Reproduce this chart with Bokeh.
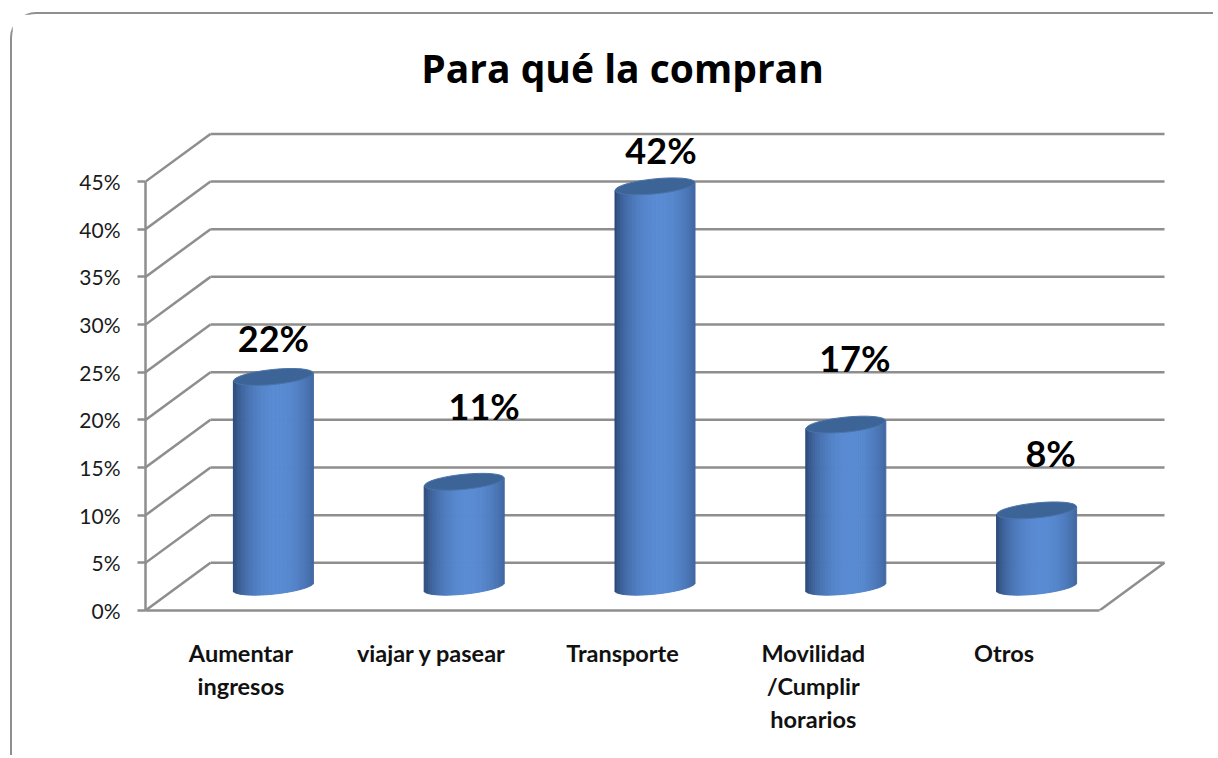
import numpy as np
from bokeh.plotting import figure
from bokeh.models import Range1d, FixedTicker, PrintfTickFormatter, Label
from bokeh.core.properties import value
from bokeh.embed import file_html
from bokeh.resources import INLINE

# ---------------- data ----------------
chart_title = "Para qué la compran"
categories = ["Aumentar\ningresos", "viajar y pasear", "Transporte",
              "Movilidad\n/Cumplir\nhorarios", "Otros"]
values = [22, 11, 42, 17, 8]
value_labels = ["22%", "11%", "42%", "17%", "8%"]
y_ticks = [0, 5, 10, 15, 20, 25, 30, 35, 40, 45]

# ---------------- layout / style ----------------
OX, OY = 12, 14                              # canvas origin on page (margin + border)
W, H = 1203, 743
# frame edges (canvas px); frame reaches the top so the title can sit inside it
FL, FR, FT, FB = 145 - OX, 1180 - OX, 0, 610 - OY
PX_X = 190.8                                # px per category
PX_Y = 9.531                                # px per percent
X0 = -0.5
X1 = X0 + (FR - FL) / PX_X
Y1 = (FB - FT) / PX_Y
DX = 65.0 / PX_X                            # depth offset (x)
DY = 47.7 / PX_Y                            # depth offset (y)
GRID = "#8e8e8e"
GW = 2.5
FONT = "Lato"

# title placement (page px: centre x, baseline y)
TITLE_CX, TITLE_BASE = 622, 67

# label offsets in screen px (x right, y up) relative to cylinder top
label_dx = [0, 20, 6, 9, 14]
label_dy = [39, 76, 36, 67, 57]

p = figure(width=W, height=H, output_backend="svg", toolbar_location=None,
           title=None,
           x_range=Range1d(X0, X1), y_range=Range1d(0, Y1),
           min_border_left=FL, min_border_right=W - FR,
           min_border_top=FT, min_border_bottom=H - FB)
p.outline_line_color = None
p.grid.visible = False
p.background_fill_color = "white"
p.border_fill_color = "white"
p.styles = {
    "margin-left": "10px", "margin-top": "12px",
    "border-left": "2.5px solid #8f8f8f", "border-top": "2.5px solid #8f8f8f",
    "border-top-left-radius": "26px",
}

# title
p.add_layout(Label(x=X0 + (TITLE_CX - 145) / PX_X, y=(610 - TITLE_BASE) / PX_Y,
                   text=chart_title, text_font="Open Sans", text_font_style="bold",
                   text_font_size="39px", text_color="black",
                   text_align="center", text_baseline="alphabetic"))

# y axis
ya = p.yaxis[0]
ya.ticker = FixedTicker(ticks=y_ticks)
ya.formatter = PrintfTickFormatter(format="%d%%")
ya.bounds = (0, max(y_ticks))
ya.axis_line_color = GRID
ya.axis_line_width = GW
ya.major_tick_line_color = GRID
ya.major_tick_line_width = GW
ya.major_tick_out = 8
ya.major_tick_in = 0
ya.minor_tick_line_color = None
ya.major_label_standoff = 17
ya.major_label_text_font = FONT
ya.major_label_text_font_size = "21px"
ya.major_label_text_color = "#1a1a1a"

# x axis
xa = p.xaxis[0]
xa.ticker = FixedTicker(ticks=list(range(len(categories))))
xa.major_label_overrides = {i: c for i, c in enumerate(categories)}
xa.bounds = (X0, len(categories) - 0.5)
xa.axis_line_color = GRID
xa.axis_line_width = GW
xa.major_tick_line_color = None
xa.minor_tick_line_color = None
xa.major_tick_out = 0
xa.major_tick_in = 0
xa.major_label_standoff = 28
xa.major_label_text_font = FONT
xa.major_label_text_font_style = "bold"
xa.major_label_text_font_size = "23.5px"
xa.major_label_text_color = "#111111"
xa.major_label_text_line_height = 1.18

# 3D walls: back gridlines, side diagonals, floor edge
n = len(categories)
bx0 = [X0 + DX] * len(y_ticks)
bx1 = [n - 0.5 + DX] * len(y_ticks)
by = [t + DY for t in y_ticks]
p.segment(x0=bx0, y0=by, x1=bx1, y1=by, line_color=GRID, line_width=GW)
p.segment(x0=[X0] * len(y_ticks), y0=y_ticks, x1=[X0 + DX] * len(y_ticks), y1=by,
          line_color=GRID, line_width=GW)
p.segment(x0=[n - 0.5], y0=[0], x1=[n - 0.5 + DX], y1=[DY], line_color=GRID, line_width=GW)

# cylinders
HW = 40.0 / PX_X            # half width
ANG = 0.1                   # ellipse tilt (rad)
EH = 7.5 / PX_Y             # half ellipse height
TILT = 40.0 * np.tan(ANG) / PX_Y
BASE = DY / 2
NS = 60
edges = np.linspace(-1, 1, NS + 1)
uc = (edges[:-1] + edges[1:]) / 2
dark = np.array([34, 58, 98])
light = np.array([90, 140, 212])
f = np.cos(np.clip((uc - 0.12) / 1.12, -1, 1) * np.pi / 2) ** 0.6
shade = 0.10 + 0.90 * f
cols = ["#%02x%02x%02x" % tuple((dark + (light - dark) * s).astype(int)) for s in shade]

cx = [i + DX / 2 for i in range(n)]
L, R, B, T, C = [], [], [], [], []
for i, v in enumerate(values):
    for j in range(NS):
        L.append(cx[i] + HW * edges[j])
        R.append(cx[i] + HW * edges[j + 1])
        B.append(BASE + TILT * uc[j] - EH * np.sqrt(max(0.0, 1 - uc[j] ** 2)))
        T.append(BASE + v + TILT * uc[j])
        C.append(cols[j])
p.quad(left=L, right=R, bottom=B, top=T, fill_color=C, line_color=C, line_width=1)

tops = [BASE + v for v in values]
p.ellipse(x=cx, y=tops, width=2 * HW, height=2 * EH, angle=ANG,
          fill_color="#3d6497", line_color="#4a74ab", line_width=1)

# value labels
p.text(x=cx, y=tops, text=value_labels, x_offset=label_dx,
       y_offset=[-d for d in label_dy],
       text_font=value(FONT), text_font_style="bold", text_font_size="36px",
       text_align="center", text_baseline="middle", text_color="black")

open("out.html", "w").write(file_html(p, INLINE))
